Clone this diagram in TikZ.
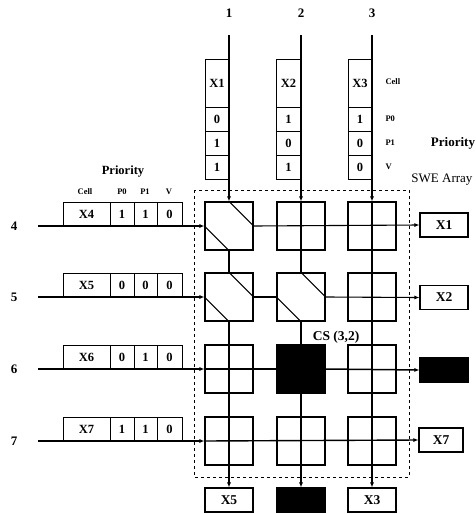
\documentclass[tikz,border=0pt]{standalone}
\usepackage{fontspec}
\setmainfont{Liberation Serif}
\usetikzlibrary{arrows.meta}
\begin{document}
\begin{tikzpicture}[x=1pt,y=-1pt,
  ln/.style={line width=1.1pt},
  arr/.style={line width=1.1pt,-{Latex[length=5pt,width=4pt]}},
  sw/.style={draw,line width=1.1pt,minimum size=48pt,inner sep=0pt},
  cellb/.style={draw,line width=0.8pt,inner sep=0pt,minimum height=24pt,font=\fontsize{12.5}{12.5}\selectfont\bfseries},
  outb/.style={draw,line width=1.1pt,inner sep=0pt,minimum width=48pt,minimum height=24pt,font=\fontsize{13.5}{13.5}\selectfont\bfseries},
  lab/.style={font=\fontsize{13}{13}\selectfont\bfseries},
  small/.style={font=\fontsize{8.5}{9}\selectfont\bfseries},
  big/.style={font=\fontsize{13.5}{13.5}\selectfont\bfseries}
]
\useasboundingbox (0,0) rectangle (476,514);

% dashed SWE array frame
\draw[line width=0.9pt,dashed] (194,190) rectangle (409,477);

% switch elements
\foreach \r/\y in {1/226,2/297,3/369,4/441}{
  \foreach \c/\x in {1/229,2/301,3/372}{
    \node[sw] (s\r\c) at (\x,\y) {};
  }
}
\node[sw,fill=black] at (s32) {};

% output boxes right
\node[outb] (o1) at (444,225) {X1};
\node[outb] (o2) at (444,297.5) {X2};
\node[outb,fill=black] (o3) at (444,370) {};
\node[outb,minimum width=44pt] (o4) at (441,440) {X7};
% output boxes bottom
\node[outb] (b1) at (229,500) {X5};
\node[outb,fill=black] (b2) at (301,500) {};
\node[outb] (b3) at (372,500) {X3};

% input labels
\node[lab] (t1) at (229,13) {1};
\node[lab] (t2) at (301,13) {2};
\node[lab] (t3) at (372,13) {3};
\node[lab] (l4) at (14,226) {4};
\node[lab] (l5) at (14,297) {5};
\node[lab] (l6) at (14,369) {6};
\node[lab] (l7) at (14,441) {7};
\coordinate (c1) at (229,35);
\coordinate (c2) at (301,35);
\coordinate (c3) at (372,35);
\coordinate (r4) at (38,226);
\coordinate (r5) at (38,297);
\coordinate (r6) at (38,369);
\coordinate (r7) at (38,441);

% vertical cell stacks
\foreach \n/\x/\a/\b/\c in {1/217/0/1/1, 2/288.5/1/0/1, 3/360/1/0/0}{
  \node[cellb,minimum width=24pt,minimum height=48pt] (v\n c) at (\x,83) {X\n};
  \node[cellb,minimum width=24pt] (v\n p) at (\x,119) {\a};
  \node[cellb,minimum width=24pt] (v\n q) at (\x,143) {\b};
  \node[cellb,minimum width=24pt] (v\n v) at (\x,167) {\c};
}
\node[small,anchor=west] (hc) at (382,82) {Cell};
\node[small,anchor=west] (hp) at (382,119) {P0};
\node[small,anchor=west] (hq) at (382,143) {P1};
\node[small,anchor=west] (hv) at (382,167) {V};
\node[font=\fontsize{13}{13}\selectfont\bfseries] (pr1) at (453,143) {Priority};
\node[font=\fontsize{13}{13}\selectfont,anchor=east] (swe) at (476,180) {SWE Array};

% horizontal cell stacks
\foreach \n/\y/\a/\b/\c in {4/214/1/1/0, 5/285/0/0/0, 6/357/0/1/0, 7/429/1/1/0}{
  \node[cellb,minimum width=47pt] (h\n c) at (86.5,\y) {X\n};
  \node[cellb,minimum width=24pt] (h\n p) at (122,\y) {\a};
  \node[cellb,minimum width=23pt] (h\n q) at (145.5,\y) {\b};
  \node[cellb,minimum width=25pt] (h\n v) at (169.5,\y) {\c};
}
\node[small] (gc) at (85,192) {Cell};
\node[small] (gp) at (122,192) {P0};
\node[small] (gq) at (145,192) {P1};
\node[small] (gv) at (169,192) {V};
\node[font=\fontsize{12.5}{12.5}\selectfont\bfseries] (pr2) at (123,172) {Priority};

\node[big] (cs) at (336,337) {CS (3,2)};

% connections
\draw[arr] (c1) -- (s11.north);
\draw[arr] (c2) -- (s12.north);
\draw[arr] (c3) -- (s13.north);
\draw[arr] (r4) -- (s11.west);
\draw[arr] (r5) -- (s21.west);
\draw[arr] (r6) -- (s31.west);
\draw[arr] (r7) -- (s41.west);

% switch (1,1): bar state
\draw[ln] (s11.north) -- (s11.east);
\draw[ln] (s11.west) -- (s11.south);
\draw[arr] (s11.east) -- (o1.west);
\draw[ln] (s11.south) -- (s21.north);
% switch (2,1)
\draw[ln] (s21.north) -- (s21.east);
\draw[ln] (s21.west) -- (s21.south);
\draw[arr] (s21.south) -- (b1.north);
\draw[ln] (s21.east) -- (s22.west);
% column 2
\draw[ln] (s12.north) -- (s22.north);
% switch (2,2)
\draw[ln] (s22.north) -- (s22.east);
\draw[ln] (s22.west) -- (s22.south);
\draw[arr] (s22.east) -- (o2.west);
\draw[ln] (s22.south) -- (s32.north);
% column 3
\draw[arr] (s13.north) -- (b3.north);
% row 6
\draw[ln] (s31.west) -- (s32.west);
\draw[arr,line width=1.5pt] (s32.east) -- (o3.west);
\draw[arr] (s32.south) -- (b2.north);
% row 7
\draw[arr,line width=1.4pt] (s41.west) -- (o4.west);
\end{tikzpicture}
\end{document}
